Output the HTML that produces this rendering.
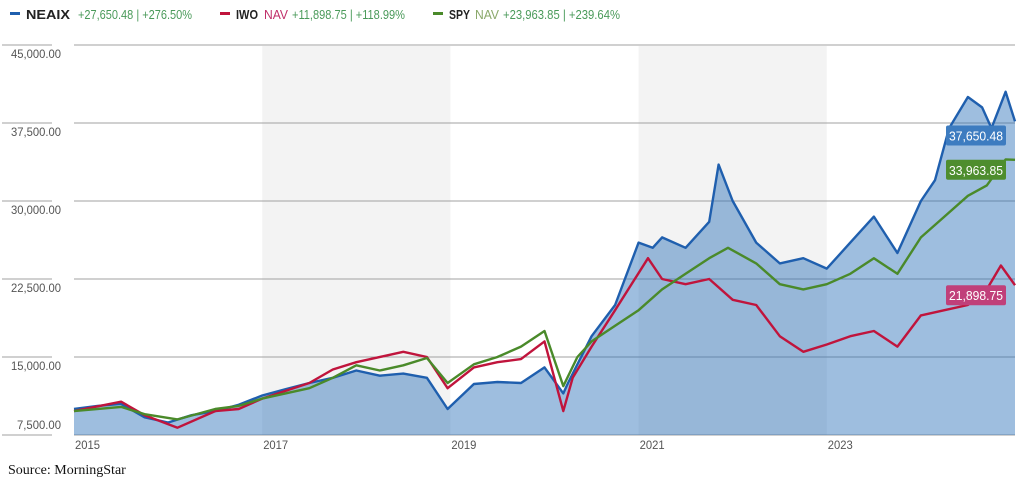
<!DOCTYPE html>
<html><head><meta charset="utf-8"><style>
body{margin:0;background:#fff;width:1024px;height:486px;overflow:hidden}
svg{display:block}
text{font-family:"Liberation Sans",sans-serif}
</style></head><body>
<svg id="chart" width="1024" height="486" viewBox="0 0 1024 486" xmlns="http://www.w3.org/2000/svg">
<g id="legend" font-size="13">
 <g>
  <rect x="10" y="12" width="10" height="3" fill="#1f5fae"/>
  <text x="26" y="19" font-weight="bold" fill="#222" textLength="44" lengthAdjust="spacingAndGlyphs">NEAIX</text>
  <text x="78" y="19" fill="#4a9a5a" textLength="114" lengthAdjust="spacingAndGlyphs">+27,650.48 | +276.50%</text>
 </g>
 <g>
  <rect x="220" y="12" width="10" height="3" fill="#c0143c"/>
  <text x="236" y="19" font-weight="bold" fill="#222" textLength="22" lengthAdjust="spacingAndGlyphs">IWO</text>
  <text x="264" y="19" fill="#c0306a" textLength="24" lengthAdjust="spacingAndGlyphs">NAV</text>
  <text x="292" y="19" fill="#4a9a5a" textLength="113" lengthAdjust="spacingAndGlyphs">+11,898.75 | +118.99%</text>
 </g>
 <g>
  <rect x="433" y="12" width="10" height="3" fill="#4a8a2a"/>
  <text x="449" y="19" font-weight="bold" fill="#222" textLength="21" lengthAdjust="spacingAndGlyphs">SPY</text>
  <text x="475" y="19" fill="#8aa86a" textLength="24" lengthAdjust="spacingAndGlyphs">NAV</text>
  <text x="503" y="19" fill="#4a9a5a" textLength="117" lengthAdjust="spacingAndGlyphs">+23,963.85 | +239.64%</text>
 </g>
</g>
<g id="bands"></g>
<g id="grid"></g>
<g id="series"></g>
<g id="labels"></g>
<text x="8" y="474" font-size="14" fill="#111" style="font-family:'Liberation Serif',serif">Source: MorningStar</text>
</svg>
<script>
const yTicks=[45000,37500,30000,22500,15000,7500];
const yTickLabels=["45,000.00","37,500.00","30,000.00","22,500.00","15,000.00","7,500.00"];
const xTicks=[2015,2017,2019,2021,2023];
const shadedBands=[[2017,2019],[2021,2023]];
const neaixT=[2015.0,2015.25,2015.5,2015.75,2016.0,2016.25,2016.5,2016.75,2017.0,2017.25,2017.5,2017.75,2018.0,2018.25,2018.5,2018.75,2018.97,2019.25,2019.5,2019.75,2020.0,2020.2,2020.25,2020.5,2020.75,2021.0,2021.15,2021.25,2021.5,2021.75,2021.85,2022.0,2022.25,2022.5,2022.75,2023.0,2023.25,2023.5,2023.75,2024.0,2024.15,2024.3,2024.5,2024.65,2024.75,2024.9,2025.0];
const neaixV=[10000,10300,10500,9200,8700,9400,9800,10400,11300,11900,12500,13000,13700,13200,13400,13000,10000,12400,12600,12500,14000,11500,12500,17000,20000,26000,25500,26500,25500,28000,33500,30000,26000,24000,24500,23500,26000,28500,25000,30000,32000,37000,40000,39000,37000,40500,37650];
const iwoT=[2015.0,2015.5,2015.75,2016.1,2016.5,2016.75,2017.0,2017.5,2017.75,2018.0,2018.5,2018.75,2018.97,2019.25,2019.5,2019.75,2020.0,2020.2,2020.3,2020.5,2020.75,2021.1,2021.25,2021.5,2021.75,2022.0,2022.25,2022.5,2022.75,2023.0,2023.25,2023.5,2023.75,2024.0,2024.25,2024.5,2024.7,2024.85,2025.0];
const iwoV=[9800,10700,9400,8200,9800,10000,11000,12500,13800,14500,15500,15000,12000,14000,14500,14800,16500,9800,13000,16000,19500,24500,22500,22000,22500,20500,20000,17000,15500,16200,17000,17500,16000,19000,19500,20000,21500,23800,21900];
const spyT=[2015.0,2015.5,2015.75,2016.1,2016.5,2016.75,2017.0,2017.5,2017.75,2018.0,2018.25,2018.5,2018.75,2018.97,2019.25,2019.5,2019.75,2020.0,2020.2,2020.35,2020.5,2020.75,2021.0,2021.25,2021.5,2021.75,2021.95,2022.25,2022.5,2022.75,2023.0,2023.25,2023.5,2023.75,2024.0,2024.25,2024.5,2024.7,2024.9,2025.0];
const spyV=[9800,10200,9500,9000,10000,10300,11000,12000,13000,14200,13700,14200,14900,12500,14300,15000,16000,17500,12200,15000,16500,18000,19500,21500,23000,24500,25500,24000,22000,21500,22000,23000,24500,23000,26500,28500,30500,31500,34000,33964];
const endLabels=["37,650.48","33,963.85","21,898.75"];

const X0=74,X1=1015,Y0=435;
const x=t=>X0+(t-2015)/10*(X1-X0);
const y=v=>Y0-(v-7500)/7500*78;
const NS="http://www.w3.org/2000/svg";
function mk(tag,attrs,parent){const e=document.createElementNS(NS,tag);for(const k in attrs)e.setAttribute(k,attrs[k]);parent.appendChild(e);return e;}
const bands=document.getElementById('bands'),grid=document.getElementById('grid'),series=document.getElementById('series'),labels=document.getElementById('labels');
shadedBands.forEach(b=>{const r=mk('rect',{x:x(b[0]),y:46,width:x(b[1])-x(b[0]),height:Y0-46,fill:'#f3f3f3'},bands);

});
yTicks.forEach((v,i)=>{const gy=y(v);
 const l=mk('line',{x1:X0,x2:X1,y1:gy,y2:gy,stroke:'#a0a0a0','stroke-width':1},grid);
 
 
 const s=mk('line',{x1:2,x2:52,y1:gy,y2:gy,stroke:'#a0a0a0','stroke-width':1},grid);
 
 
 const ty=i===yTicks.length-1?gy-6:gy+13;
 const t=mk('text',{x:61,y:ty,'text-anchor':'end','font-size':12,fill:'#555',textLength:yTickLabels[i].length>8?50:44,lengthAdjust:'spacingAndGlyphs'},grid);t.textContent=yTickLabels[i];
 
 });
xTicks.forEach(v=>{const t=mk('text',{x:x(v)+1,y:449,'font-size':12,fill:'#555',textLength:25,lengthAdjust:'spacingAndGlyphs'},grid);t.textContent=String(v);
 
 });
function pts(T,V){return T.map((t,i)=>x(t).toFixed(1)+','+y(V[i]).toFixed(1)).join(' ');}
const area=mk('polygon',{points:x(neaixT[0])+','+Y0+' '+pts(neaixT,neaixV)+' '+x(neaixT[neaixT.length-1])+','+Y0,fill:'rgba(40,110,185,0.45)'},series);


[[neaixT,neaixV,'#1f5fae','neaix-line'],[iwoT,iwoV,'#c0143c','iwo-line'],[spyT,spyV,'#4a8a2a','spy-line']].forEach(s=>{
 const p=mk('polyline',{points:pts(s[0],s[1]),fill:'none',stroke:s[2],'stroke-width':2.4,'stroke-linejoin':'round'},series);
 
 });
const lastVals=[neaixV[neaixV.length-1],spyV[spyV.length-1],iwoV[iwoV.length-1]];
const boxCols=['#3d7cc0','#4e8d2e','#c0407a'];
const boxY=[y(lastVals[0])+4,y(lastVals[1])+0,y(lastVals[2])+0];
lastVals.forEach((v,i)=>{const by=boxY[i];
 const r=mk('rect',{x:946,y:by,width:60,height:20,rx:2,fill:boxCols[i]},labels);
 
 
 const t=mk('text',{x:976,y:by+15,'text-anchor':'middle','font-size':13,fill:'#fff',textLength:54,lengthAdjust:'spacingAndGlyphs'},labels);t.textContent=endLabels[i];
 
 });
</script>
</body></html>
